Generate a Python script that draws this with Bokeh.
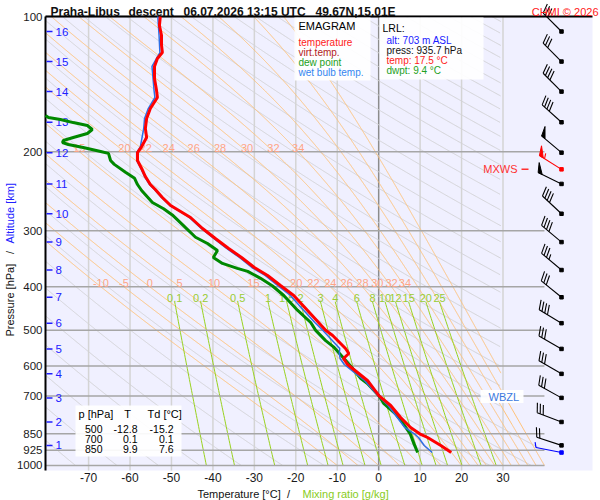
import numpy as np
from bokeh.plotting import figure
from bokeh.models import Range1d, Label, BoxAnnotation
from bokeh.core.properties import value
from bokeh.embed import file_html
from bokeh.resources import INLINE

# ------------------------------------------------------------------ data
title_parts = ["Praha-Libus", "descent", "06.07.2026 13:15 UTC", "49.67N,15.01E"]
credit = "CHMI \u00a9 2026"

temp_p = [100, 104.7, 110.2, 116.0, 120.3, 124.0, 129.2, 137.4, 146.2, 151.5, 160.3, 168.7, 177.6,
          186.0, 194.8, 200.9, 209.3, 218.0, 227.2, 236.7, 242.8, 253.0, 263.6, 271.8, 280.3, 296.6,
          312.2, 328.6, 344.1, 362.3, 377.4, 397.3, 418.2, 447.0, 480.3, 500, 513.4, 548.8, 563.0,
          577.7, 595.7, 620.7, 646.6, 700, 735.1, 781.7, 822.9, 850, 866.2, 902.5, 935.7]
temp_t = [-52.7, -52.9, -52.4, -52.4, -52.2, -53.4, -54.1, -54.1, -53.6, -53.4, -55.1, -56.0, -56.3,
          -56.0, -57.2, -58.2, -58.2, -57.2, -56.3, -55.1, -53.9, -52.2, -50.2, -47.8, -45.4, -42.5,
          -39.4, -36.2, -33.1, -30.0, -26.8, -23.7, -20.5, -17.6, -14.5, -12.8, -11.1, -8.0, -7.2,
          -8.5, -7.5, -5.1, -2.7, 0.1, 2.9, 5.3, 7.7, 9.9, 11.8, 15.0, 17.5]

wetb_p = [100, 110, 120.3, 129.2, 146.2, 151.5, 160.3, 168.7, 177.6, 194.8, 200.9, 209.3, 218.0,
          227.2, 236.7, 242.8, 253.0, 263.6, 271.8, 280.3, 296.6, 312.2, 328.6, 344.1, 362.3, 377.4,
          397.3, 418.2, 447.0, 480.3, 500, 548.8, 563.0, 577.7, 595.7, 620.7, 646.6, 700, 735.1,
          781.7, 822.9, 850, 866.2, 902.5, 935.7]
wetb_t = [-53.3, -53.0, -52.8, -54.7, -54.2, -54.0, -55.6, -56.5, -56.7, -57.5, -58.4, -58.4, -57.4,
          -56.5, -55.3, -54.1, -52.4, -50.4, -48.0, -45.7, -42.8, -39.8, -36.7, -33.6, -30.6, -27.4,
          -24.4, -21.3, -18.5, -15.4, -13.5, -9.4, -9.5, -9.3, -8.3, -5.9, -3.4, -0.1, 2.3, 4.5, 6.3,
          8.6, 9.6, 11.0, 12.9]

dewp_p = [160, 167.9, 169.6, 172.3, 174.9, 178.5, 182.2, 186.0, 188.9, 190.8, 192.8, 195.8, 199.8,
          201.8, 209.3, 213.5, 222.3, 229.3, 236.7, 244.1, 259.6, 268.1, 276.7, 292.2, 310.2, 320.3,
          332.1, 344.1, 354.8, 363.9, 369.5, 383.0, 398.3, 418.2, 451.0, 480.3, 500, 527, 544.1,
          573.4, 607.6, 640.0, 656.6, 700, 727, 766, 794, 850, 894, 935.7]
dewp_t = [-83.0, -79.7, -76.8, -73.7, -70.3, -69.1, -70.3, -73.7, -76.1, -76.3, -74.9, -71.3, -67.1,
          -65.2, -64.7, -63.8, -61.1, -58.9, -58.2, -57.2, -54.6, -51.9, -49.8, -47.1, -44.2, -41.3,
          -38.9, -39.9, -37.7, -34.1, -31.6, -28.5, -25.6, -22.9, -19.6, -16.4, -15.2, -12.8, -10.9,
          -8.7, -6.3, -4.3, -2.7, 0.1, 1.2, 4.0, 5.4, 7.6, 8.5, 9.4]

alt_km = [1, 2, 3, 4, 5, 6, 7, 8, 9, 10, 11, 12, 13, 14, 15, 16]
alt_p = [902, 800, 707, 625, 550, 482, 422, 367, 318, 275, 236, 201, 172, 147, 126, 108]

wind_dir = [288, 291, 299, 300, 300, 301, 309, 310, 310, 313, 296, 310, 312, 315, 315, 315]
wind_kt = [20, 30, 30, 30, 30, 40, 30, 35, 40, 40, 50, 50, 40, 40, 30, 30]
mxws_p, mxws_dir, mxws_kt = 219.0, 302, 55
sfc_p, sfc_dir, sfc_kt = 935.7, 281, 5

pressure_ticks = [100, 200, 300, 400, 500, 600, 700, 850, 925, 1000]
temp_ticks = [-70, -60, -50, -40, -30, -20, -10, 0, 10, 20, 30]
mix_ratios = [0.1, 0.2, 0.5, 1, 1.5, 2, 3, 4, 6, 8, 10, 12, 15, 20, 25]
mix_labels = ["0.1", "0.2", "0.5", "1", "1.5", "2", "3", "4", "6", "8", "10", "12", "15", "20", "25"]
theta_w = [-10, -5, 0, 5, 10, 15, 20, 22, 24, 26, 28, 30, 32, 34, 36, 38, 40, 42]
theta_w_labelled = [-10, -5, 0, 5, 10, 15, 20, 22, 24, 26, 28, 30, 32, 34]
theta_dry = list(range(190, 600, 10))

table_levels = [500, 700, 850]
table_T = [-12.8, 0.1, 9.9]
table_Td = [-15.2, 0.1, 7.6]

lrl_alt, lrl_press, lrl_temp, lrl_dwpt = 703, 935.7, 17.5, 9.4
wbzl_p = 702.0

# ------------------------------------------------------------------ geometry
FONT = "Liberation Sans"
LEFT, TOP = 45, 16          # plot area corner on the 600x500 canvas
FW, FH = 547, 454           # plot area size
X0, X1 = -80.4, 51.6        # temperature range of the plot area
P_BOT, P_TOP = 1026.0, 100.0
kx = FW / (X1 - X0)
ky = FH / np.log(P_BOT / P_TOP)


def T_of(px):
    return float(X0 + (px - LEFT) / kx)


def P_of(py):
    return float(P_TOP * np.exp((py - TOP) / ky))


# the frame covers the whole canvas; the diagram area is drawn inside it
p = figure(frame_width=600, frame_height=500, min_border=0,
           x_range=Range1d(T_of(0), T_of(600)), y_range=Range1d(P_of(500), P_of(0)),
           y_axis_type="log", x_axis_location=None, y_axis_location=None,
           output_backend="svg", toolbar_location=None,
           background_fill_color="white", border_fill_color="white", outline_line_color=None)
p.grid.visible = False

p.quad(left=[X0], right=[X1], bottom=[P_BOT], top=[P_TOP], fill_color="#f0f0ff", line_color=None)

# ------------------------------------------------------------------ background lines
pg = np.geomspace(100, 1000, 900)


def t_max(pp):
    return np.interp(np.log(pp), np.log([100, 780, 880, 1000]), [29.5, 29.5, 38, 40])


def masked(T, pp):
    m = (T <= t_max(pp)) & (T >= X0)
    return T[m].tolist(), pp[m].tolist(), m.sum()


iso_c = ["#8c8c8c" if t == 0 else "#d4d4d4" for t in temp_ticks]
p.segment(x0=temp_ticks, x1=temp_ticks, y0=[P_TOP] * len(temp_ticks), y1=[P_BOT] * len(temp_ticks),
          line_color=iso_c, line_width=1.5)

dxs, dys = [], []
for th in theta_dry:
    T = th * (pg / 1000.0) ** 0.2857 - 273.15
    a, b, n = masked(T, pg)
    if n > 1:
        dxs.append(a)
        dys.append(b)
p.multi_line(dxs, dys, line_color="#d3d3d6", line_width=1)

Rd, Cp, Lv, EPS = 287.04, 1005.7, 2.501e6, 0.622


def esat(tc):
    return 6.112 * np.exp(17.67 * tc / (tc + 243.5))


def dTdp(pp, tk):
    e = esat(tk - 273.15)
    r = EPS * e / (pp - e)
    return (Rd * tk + Lv * r) / (pp * (Cp + Lv * Lv * r * EPS / (Rd * tk * tk)))


pdn = np.geomspace(1000, 100, 300)
Tm = np.empty((len(pdn), len(theta_w)))
Tm[0] = np.array(theta_w, float) + 273.15
for i in range(1, len(pdn)):
    h = pdn[i] - pdn[i - 1]
    pp = pdn[i - 1]
    t = Tm[i - 1]
    k1 = dTdp(pp, t)
    k2 = dTdp(pp + h / 2, t + h / 2 * k1)
    k3 = dTdp(pp + h / 2, t + h / 2 * k2)
    k4 = dTdp(pp + h, t + h * k3)
    Tm[i] = t + h / 6 * (k1 + 2 * k2 + 2 * k3 + k4)
p_up = pdn[::-1]
Tm = Tm[::-1] - 273.15


def moist_T(j, pp):
    return np.interp(np.log(pp), np.log(p_up), Tm[:, j])


mxs, mys = [], []
for j in range(len(theta_w)):
    a, b, n = masked(moist_T(j, pg), pg)
    if n > 1:
        mxs.append(a)
        mys.append(b)
p.multi_line(mxs, mys, line_color="#ffc27a", line_width=1)

pm = np.geomspace(432, 1000, 60)
wxs, wys, wlab = [], [], []
for w in mix_ratios:
    e = w * pm / (622.0 + w)
    lg = np.log(e / 6.112)
    td = 243.5 * lg / (17.67 - lg)
    wxs.append(td.tolist())
    wys.append(pm.tolist())
    wlab.append(float(td[0]))
p.multi_line(wxs, wys, line_color="#99d21e", line_width=1)

p.segment(x0=[X0] * len(pressure_ticks), x1=[40] * len(pressure_ticks), y0=pressure_ticks,
          y1=pressure_ticks, line_color="#a6a6a6", line_width=1.5)

for plev in (200, 400):
    xs, ts = [], []
    for v in theta_w_labelled:
        x = float(moist_T(theta_w.index(v), np.array([plev]))[0])
        if x > X0 + 2.5:
            xs.append(x)
            ts.append(str(v))
    p.text(x=xs, y=[plev] * len(xs), text=ts, text_font=value(FONT), text_font_size="11px",
           text_color="#ffa585", text_align="center", text_baseline="bottom")
p.text(x=wlab, y=[432] * len(wlab), text=mix_labels, text_font=value(FONT), text_font_size="11px",
       text_color="#99cc33", text_align="center", text_baseline="bottom")

# axis lines (left and top of the diagram)
p.segment(x0=[X0, X0], x1=[X0, X1], y0=[P_BOT, P_TOP], y1=[P_TOP, P_TOP], line_color="black",
          line_width=2)

# tick labels
p.text(x=[T_of(42)] * len(pressure_ticks), y=pressure_ticks, text=[str(v) for v in pressure_ticks],
       text_font=value(FONT), text_font_size="11.5px", text_color="#1a1a1a", text_align="right",
       text_baseline="middle")
p.text(x=temp_ticks, y=[P_of(477)] * len(temp_ticks), text=[str(v) for v in temp_ticks],
       text_font=value(FONT), text_font_size="12px", text_color="#1a1a1a", text_align="center",
       text_baseline="middle")

# altitude scale
p.segment(x0=[T_of(46)] * len(alt_p), x1=[T_of(52)] * len(alt_p), y0=alt_p, y1=alt_p,
          line_color="#2020ff", line_width=1.5)
p.text(x=[T_of(55)] * len(alt_p), y=alt_p, text=[str(k) for k in alt_km], text_font=value(FONT),
       text_font_size="11.5px", text_color="#2020ff", text_align="left", text_baseline="middle")

# ------------------------------------------------------------------ profiles


def clip_left(ts, ps, xmin):
    out_t, out_p = [], []
    for i, (t, pp) in enumerate(zip(ts, ps)):
        if i > 0:
            t0, p0 = ts[i - 1], ps[i - 1]
            if (t0 < xmin) != (t < xmin):
                f = (xmin - t0) / (t - t0)
                pc = float(np.exp(np.log(p0) + f * (np.log(pp) - np.log(p0))))
                out_t.append(xmin)
                out_p.append(pc)
                if t < xmin:
                    out_t.append(float("nan"))
                    out_p.append(float("nan"))
        if t >= xmin:
            out_t.append(t)
            out_p.append(pp)
    return out_t, out_p


gx, gy = clip_left(dewp_t, dewp_p, X0)
p.line(gx, gy, line_color="#008800", line_width=3)
p.line(wetb_t, wetb_p, line_color="#2d6fe6", line_width=1.5)
p.line(temp_t, temp_p, line_color="#ff0000", line_width=3)

# ------------------------------------------------------------------ wind barbs
T_BARB = T_of(561)


def barb(p0, direction, speed, L=26.0, F=10.0, gap=3.2):
    d = np.radians(direction)
    s = np.array([np.sin(d), np.cos(d)])
    r = np.array([s[1], -s[0]])
    a = np.radians(70)
    f = np.cos(a) * s + np.sin(a) * r

    def dat(pt):
        return T_BARB + pt[0] / kx, p0 * np.exp(-pt[1] / ky)

    lines, tris = [], []
    lines.append([dat(np.zeros(2)), dat(L * s)])
    spd = int(5 * round(speed / 5.0))
    n50, rem = divmod(spd, 50)
    n10, rem = divmod(rem, 10)
    n5 = rem // 5
    pos = L
    for _ in range(n50):
        b1 = pos * s
        b2 = (pos - 4.5) * s
        tris.append([dat(b1), dat(b1 + F * f), dat(b2)])
        pos -= 6.0
    for _ in range(n10):
        b = pos * s
        lines.append([dat(b), dat(b + F * f)])
        pos -= gap
    if n5:
        b = pos * s
        lines.append([dat(b), dat(b + 0.55 * F * f)])
    return lines, tris


def draw_barbs(levels, dirs, spds, color):
    lx, ly, tx, ty = [], [], [], []
    for p0, d, sp in zip(levels, dirs, spds):
        lines, tris = barb(p0, d, sp)
        for ln in lines:
            lx.append([q[0] for q in ln])
            ly.append([q[1] for q in ln])
        for tr in tris:
            tx.append([q[0] for q in tr])
            ty.append([q[1] for q in tr])
    p.multi_line(lx, ly, line_color=color, line_width=1.1)
    if tx:
        p.patches(tx, ty, fill_color=color, line_color=color, line_width=1)
    p.scatter([T_BARB] * len(levels), levels, marker="square", size=3.5, color=color)


draw_barbs(alt_p, wind_dir, wind_kt, "black")
draw_barbs([mxws_p], [mxws_dir], [mxws_kt], "#ff0000")
draw_barbs([sfc_p], [sfc_dir], [sfc_kt], "#0000ff")

# ------------------------------------------------------------------ annotations


def box(x0, x1, y0, y1, alpha=0.92):
    p.add_layout(BoxAnnotation(left=T_of(x0), right=T_of(x1), top=P_of(y0), bottom=P_of(y1),
                               fill_color="white", fill_alpha=alpha, line_color=None))


def lab(text, X, Y, color="#000000", size="10px", align="left", base="middle", bold=False,
        angle=0.0):
    p.add_layout(Label(x=T_of(X), y=P_of(Y), text=text, text_color=color, text_font=FONT,
                       text_font_size=size, text_align=align, text_baseline=base,
                       text_font_style="bold" if bold else "normal", angle=angle))


box(294, 370, 17, 80)
box(379, 483, 17, 79)
lab("EMAGRAM", 298, 25, size="11px")
lab("temperature", 298, 42, color="#ff1a1a")
lab("virt.temp.", 298, 52, color="#b22222")
lab("dew point", 298, 62, color="#22a022")
lab("wet bulb temp.", 298, 72, color="#3385f0")
lab("LRL:", 382, 27, size="10.5px")
lab(f"alt: {lrl_alt} m ASL", 386, 40, color="#1a1aff")
lab(f"press: {lrl_press} hPa", 386, 50, color="#111111")
lab(f"temp: {lrl_temp} \u00b0C", 386, 60, color="#ff1a1a")
lab(f"dwpt: {lrl_dwpt} \u00b0C", 386, 70, color="#22a022")

box(75, 181, 405, 456)
lab("p [hPa]", 78, 413, size="11px")
lab("T", 127, 413, size="11px", align="center")
lab("Td [\u00b0C]", 147, 413, size="11px")
for i, lev in enumerate(table_levels):
    yy = 428 + 10 * i
    lab(str(lev), 102, yy, size="10.5px", align="right")
    lab(f"{table_T[i]:.1f}", 137, yy, size="10.5px", align="right")
    lab(f"{table_Td[i]:.1f}", 173, yy, size="10.5px", align="right")

p.add_layout(BoxAnnotation(left=T_of(480), right=T_of(523), top=wbzl_p * np.exp(-6.5 / ky),
                           bottom=wbzl_p * np.exp(6.5 / ky), fill_color="white", fill_alpha=0.95,
                           line_color=None))
p.segment(x0=[T_of(480)], x1=[T_of(487)], y0=[wbzl_p], y1=[wbzl_p], line_color="#3a78e0",
          line_width=1.5)
p.add_layout(Label(x=T_of(488), y=wbzl_p, text="WBZL", text_color="#3a78e0", text_font=FONT,
                   text_font_size="11px", text_align="left", text_baseline="middle"))
p.segment(x0=[T_of(521)], x1=[T_of(528)], y0=[mxws_p], y1=[mxws_p], line_color="#ff3030",
          line_width=1.5)
p.add_layout(Label(x=T_of(517), y=mxws_p, text="MXWS", text_color="#ff3030", text_font=FONT,
                   text_font_size="11px", text_align="right", text_baseline="middle"))

tx = [50, 128, 183, 315]
for t, xpos in zip(title_parts, tx):
    lab(t, xpos, 11, color="#111111", size="12px", base="alphabetic", bold=True)
lab(credit, 598, 11, color="#ff2020", size="11px", align="right", base="alphabetic")

lab("Temperature [\u00b0C]", 197, 493, color="#111111", size="11px")
lab("/", 288, 493, color="#111111", size="11px", align="center")
lab("Mixing ratio [g/kg]", 302, 493, color="#88cc22", size="11px")
lab("Pressure [hPa]", 9, 336, color="#111111", size="11px", angle=np.pi / 2)
lab("/", 9, 252, color="#111111", size="11px", align="center", angle=np.pi / 2)
lab("Altitude [km]", 9, 243, color="#2020ff", size="11px", angle=np.pi / 2)

open("out.html", "w").write(file_html(p, INLINE))
